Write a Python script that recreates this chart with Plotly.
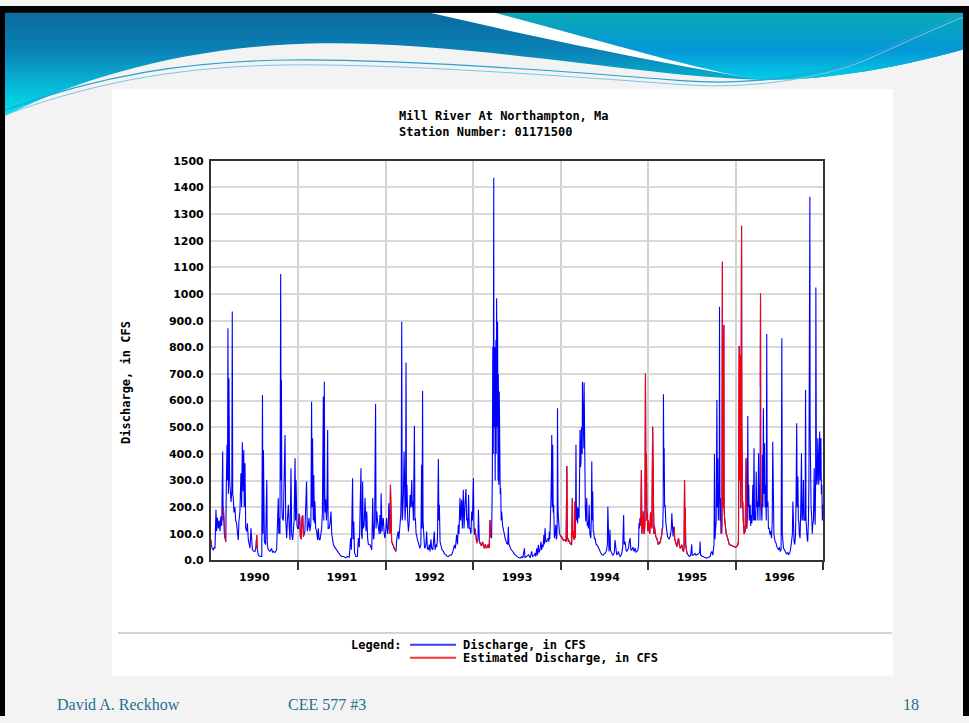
import base64
import pandas as pd
import plotly.graph_objects as go

W, H = 969, 723
SY = 0.99   # small vertical compensation observed in the rendered picture
START = pd.Timestamp("1989-10-01")   # first day of water year 1990
END_DAY = 2556

# ---- daily discharge readings (days since START, cfs) ----
wy1990 = [(0,78),(4,55),(6,45),(11,40),(15,50),(18,45),(22,190),(25,110),(28,160),(32,120),(35,150),(39,110),
          (42,165),(46,130),(50,409),(52,150),(53,200),(55,150),(57,100),(60,85),(63,70),(65,271),(68,434),(70,300),
          (72,871),(74,250),(76,684),(79,300),(82,250),(85,220),(88,260),(90,934),(92,246),(94,240),(97,180),(101,200),
          (104,150),(108,140),(112,100),(115,77),(118,150),(122,184),(126,327),(129,200),(132,444),(135,260),(138,415),
          (140,200),(143,365),(146,121),(150,109),(153,140),(157,77),(160,60),(164,46),(168,121),(171,50),(174,40),
          (180,35),(185,34),(189,50),(192,96),(194,45),(196,30),(199,20),(206,15),(213,15),(216,621),(218,100),(220,415),
          (222,80),(224,70),(229,60),(234,302),(236,60),(240,40),(247,34),(254,45),(258,30),(261,34),(268,30),(275,40),
          (282,234),(284,100),(286,159),(289,100),(292,1075),(294,300),(295,677),(297,200),(299,159),(303,150),(307,300),
          (310,471),(313,150),(317,84),(320,150),(324,209),(328,120),(331,77),(335,346),(338,100),(342,77),(348,150),
          (352,384),(354,150),(356,302),(358,140),(360,130),(363,120)]
wy1991 = [(366,120),(368,175),(371,170),(374,90),(377,80),(381,160),(384,170),(387,90),(390,100),(393,110),(400,296),
          (403,110),(407,130),(410,160),(414,110),(418,140),(421,596),(423,200),(425,459),(428,150),(430,321),(433,140),
          (435,221),(438,120),(442,110),(446,77),(449,121),(452,80),(456,77),(460,100),(463,120),(466,180),(470,615),
          (472,150),(474,671),(476,250),(478,180),(480,229),(483,150),(485,200),(488,490),(490,120),(494,121),(498,140),
          (502,184),(505,100),(508,71),(512,60),(516,52),(521,45),(526,40),(533,30),(540,20),(547,15),(555,15),(563,10),
          (570,15),(578,12),(584,84),(587,40),(592,309),(594,80),(597,146),(600,30),(606,15),(612,15),(616,84),(620,50),
          (627,346),(629,100),(632,80),(634,296),(636,120),(640,130),(644,234),(648,110),(651,184),(655,80),(658,60),
          (665,59),(672,40),(676,234),(679,80),(681,84),(684,150),(688,587),(690,120),(693,184),(696,150),(699,121),
          (703,100),(706,171),(709,100),(711,252),(713,120),(715,109),(718,150),(720,159),(724,100),(727,84)]
wy1992 = [(731,120),(734,159),(738,100),(741,120),(743,215),(745,150),(748,100),(750,284),(752,80),(755,71),(758,65),
          (762,52),(766,45),(769,40),(773,34),(776,77),(779,90),(782,109),(785,80),(787,109),(790,120),(793,171),(795,250),
          (797,896),(799,150),(801,171),(804,250),(807,409),(809,300),(811,150),(813,200),(815,743),(817,200),(819,284),
          (822,150),(825,109),(828,140),(832,246),(835,200),(839,302),(841,200),(843,221),(846,150),(850,506),(852,150),
          (854,159),(857,100),(859,96),(862,80),(866,65),(870,52),(873,46),(877,60),(880,359),(882,120),(884,636),(886,150),
          (889,71),(892,50),(894,46),(898,60),(901,109),(904,45),(908,40),(912,60),(915,34),(919,80),(922,46),(926,40),
          (929,60),(933,109),(936,40),(940,60),(943,50),(946,80),(950,381),(952,150),(954,209),(957,70),(960,59),(965,40),
          (971,34),(976,25),(982,21),(987,15),(992,15),(998,20),(1005,21),(1011,35),(1017,59),(1021,45),(1026,96),
          (1030,60),(1033,134),(1036,100),(1040,234),(1043,150),(1047,228),(1050,120),(1054,265),(1057,120),(1061,209),
          (1065,268),(1068,150),(1071,159),(1073,120),(1076,246),(1079,120),(1082,121),(1086,100),(1089,184),(1092,150),
          (1094,200)]
wy1993 = [(1096,309),(1098,150),(1100,96),(1103,120),(1107,96),(1110,65),(1113,80),(1115,75),(1117,190),(1119,80),
          (1121,71),(1126,60),(1130,55),(1134,70),(1138,50),(1142,46),(1146,60),(1150,46),(1154,50),(1158,60),(1162,46),
          (1165,152),(1168,90),(1170,84),(1172,84),(1175,300),(1177,802),(1179,400),(1181,1436),(1182,500),(1183,700),
          (1184,359),(1185,800),(1186,709),(1187,300),(1188,600),(1190,827),(1191,400),(1193,984),(1195,500),(1197,896),
          (1199,300),(1200,700),(1202,284),(1204,634),(1206,350),(1207,459),(1208,250),(1210,271),(1212,150),(1214,184),
          (1218,130),(1221,121),(1225,100),(1228,84),(1232,70),(1235,65),(1239,60),(1242,127),(1244,60),(1246,59),
          (1251,45),(1256,40),(1263,30),(1270,21),(1277,15),(1284,11),(1291,9),(1298,15),(1302,10),(1309,46),(1311,10),
          (1318,15),(1326,21),(1333,10),(1339,34),(1343,15),(1350,20),(1353,28),(1357,15),(1360,46),(1364,20),(1367,59),
          (1370,30),(1374,40),(1378,71),(1381,40),(1384,60),(1387,50),(1390,96),(1392,60),(1395,121),(1398,70),(1402,71),
          (1405,80),(1409,84),(1411,70),(1413,109),(1415,80),(1417,127),(1420,240),(1422,350),(1423,471),(1425,200),
          (1427,434),(1429,180),(1431,209),(1434,84),(1437,100),(1440,134),(1442,80),(1444,84),(1446,150),(1447,571),
          (1449,200),(1451,159),(1453,110),(1455,102),(1458,96)]
wy1994 = [(1462,90),(1465,90),(1469,80),(1472,75),(1476,77),(1479,77),(1483,70),(1486,355),(1488,80),(1490,84),
          (1493,70),(1496,75),(1499,65),(1503,60),(1506,59),(1509,234),(1511,90),(1513,109),(1516,80),(1518,80),(1520,221),
          (1522,84),(1524,434),(1526,150),(1529,202),(1531,140),(1533,196),(1535,180),(1537,159),(1539,300),(1541,490),
          (1543,350),(1545,371),(1547,500),(1548,446),(1550,400),(1551,671),(1553,500),(1555,565),(1557,420),(1558,668),
          (1560,350),(1561,484),(1563,200),(1565,146),(1567,180),(1569,234),(1571,130),(1573,146),(1576,120),(1579,209),
          (1582,100),(1586,84),(1588,150),(1590,371),(1592,150),(1594,259),(1596,110),(1598,109),(1601,80),(1604,84),
          (1608,60),(1611,59),(1616,52),(1619,48),(1622,40),(1625,34),(1629,25),(1632,21),(1637,20),(1643,27),(1648,30),
          (1652,40),(1655,60),(1657,202),(1659,50),(1662,34),(1664,60),(1666,115),(1668,40),(1673,27),(1677,20),(1680,21),
          (1684,30),(1687,77),(1690,40),(1694,21),(1698,25),(1701,34),(1705,20),(1708,15),(1712,20),(1715,27),(1719,50),
          (1723,171),(1725,60),(1729,71),(1733,40),(1736,34),(1740,40),(1743,46),(1746,70),(1750,84),(1753,40),(1757,40),
          (1762,50),(1766,34),(1771,46),(1775,30),(1778,34),(1782,40),(1785,52),(1787,140),(1789,120),(1791,159),
          (1792,130),(1795,150),(1797,340),(1799,100),(1801,165),(1803,120),(1805,184),(1808,100),(1810,110),(1812,150),
          (1814,702),(1816,200),(1818,402),(1820,150),(1821,184),(1824,110)]
wy1995 = [(1826,150),(1829,120),(1832,100),(1835,180),(1837,130),(1839,184),(1841,120),(1844,502),(1846,150),(1849,100),
          (1851,130),(1854,109),(1857,90),(1861,84),(1864,70),(1868,59),(1871,70),(1875,65),(1878,80),(1882,96),(1884,120),
          (1886,121),(1888,200),(1889,624),(1891,300),(1892,421),(1894,200),(1896,209),(1899,140),(1903,109),(1906,90),
          (1910,84),(1913,80),(1917,90),(1920,109),(1922,120),(1924,177),(1926,100),(1927,177),(1929,90),(1931,121),
          (1934,127),(1936,80),(1938,71),(1942,60),(1945,52),(1948,70),(1952,84),(1955,60),(1959,46),(1962,50),(1966,59),
          (1969,40),(1973,34),(1975,50),(1977,302),(1979,100),(1980,196),(1982,60),(1984,34),(1987,27),(1989,27),(1992,20),
          (1998,15),(2003,20),(2007,61),(2009,20),(2014,21),(2018,25),(2021,27),(2025,20),(2028,21),(2035,25),(2040,30),
          (2042,71),(2044,20),(2046,21),(2051,15),(2056,15),(2063,10),(2070,9),(2077,12),(2084,15),(2088,30),(2091,34),
          (2095,20),(2098,40),(2100,60),(2102,400),(2104,80),(2106,109),(2109,150),(2112,602),(2114,200),(2116,384),
          (2118,150),(2120,246),(2122,300),(2123,952),(2125,150),(2127,234),(2129,100),(2130,159),(2132,100),(2133,134),
          (2134,500),(2135,1121),(2136,300),(2137,200),(2138,234),(2139,600),(2140,250),(2141,884),(2142,200),(2144,159),
          (2146,130),(2148,121),(2151,100),(2153,96),(2157,80),(2160,71),(2164,60),(2167,59),(2174,55),(2181,52),(2188,50)]
wy1996 = [(2195,52),(2200,60),(2202,71),(2204,400),(2205,805),(2207,300),(2209,771),(2210,500),(2212,196),(2214,600),
          (2215,1256),(2216,500),(2217,371),(2219,200),(2220,221),(2222,150),(2223,121),(2226,100),(2230,109),(2232,200),
          (2234,384),(2236,120),(2237,121),(2239,150),(2241,542),(2243,200),(2245,284),(2247,150),(2249,196),(2251,209),
          (2253,130),(2255,171),(2258,140),(2260,200),(2262,284),(2264,150),(2265,250),(2267,421),(2269,150),(2272,184),
          (2274,150),(2276,334),(2278,200),(2281,221),(2283,150),(2286,402),(2288,200),(2290,284),(2292,150),(2293,652),
          (2294,1002),(2295,200),(2297,209),(2300,150),(2302,396),(2304,200),(2306,571),(2308,250),(2311,440),(2313,200),
          (2315,284),(2318,150),(2320,850),(2322,200),(2325,221),(2327,120),(2330,121),(2334,96),(2337,110),(2340,84),
          (2343,150),(2345,446),(2347,120),(2350,96),(2355,71),(2359,65),(2362,52),(2366,45),(2369,40),(2373,50),(2376,34),
          (2380,40),(2383,834),(2385,100),(2387,77),(2390,46),(2394,40),(2397,34),(2402,25),(2404,27),(2408,30),(2411,21),
          (2415,30),(2418,34),(2422,60),(2425,96),(2427,100),(2429,221),(2431,100),(2434,71),(2437,60),(2440,96),(2442,200),
          (2445,515),(2447,200),(2450,315),(2452,150),(2454,146),(2456,100),(2459,84),(2462,200),(2465,402),(2467,150),
          (2469,159),(2471,200),(2473,302),(2475,150),(2477,159),(2480,150),(2482,640),(2484,150),(2486,96),(2489,80),
          (2491,71),(2494,150),(2496,300),(2497,902),(2499,400),(2500,1365),(2501,500),(2503,284),(2505,200),(2508,159),
          (2510,100),(2512,134),(2515,150),(2518,346),(2520,200),(2522,134),(2524,300),(2525,1024),(2527,400),(2529,284),
          (2531,300),(2533,459),(2535,300),(2537,284),(2539,400),(2541,484),(2543,300),(2546,459),(2548,250),(2550,284),
          (2552,150),(2554,209),(2556,180)]

# periods flagged as "estimated" (days since START, inclusive)
estimated_periods = [(0,4),(53,63),(189,194),(368,390),(745,773),(1103,1113),(1121,1168),(1455,1522),
                     (1616,1619),(1792,1884),(1931,1989),(2132,2236),(2293,2295)]

water_years = ["1990", "1991", "1992", "1993", "1994", "1995", "1996"]
y_tick_values = [0,100,200,300,400,500,600,700,800,900,1000,1100,1200,1300,1400,1500]
y_tick_text = ["0.0","100.0","200.0","300.0","400.0","500.0","600.0","700.0","800.0","900.0",
               "1000","1100","1200","1300","1400","1500"]

# ---- build series ----
readings = wy1990 + wy1991 + wy1992 + wy1993 + wy1994 + wy1995 + wy1996
days = [d for d, _ in readings]
cfs = [v for _, v in readings]
dates = [START + pd.Timedelta(days=d) for d in days]
is_est = [any(a <= d <= b for a, b in estimated_periods) for d in days]
est_cfs = [v if e else None for v, e in zip(cfs, is_est)]


def px(x):
    return x / W


def py(y):
    return 1 - (y / SY) / H


fig = go.Figure()
fig.add_trace(go.Scatter(x=dates, y=cfs, mode="lines", name="Discharge, in CFS",
                         line=dict(color="#0000ff", width=1.1), hoverinfo="skip"))
fig.add_trace(go.Scatter(x=dates, y=est_cfs, mode="lines", name="Estimated Discharge, in CFS",
                         line=dict(color="#ff0000", width=1.1), connectgaps=False, hoverinfo="skip"))

label_dates = [f"{y}-04-01" for y in water_years]
year_bounds = [f"{int(y)}-10-01" for y in water_years[:-1]] + [str((START + pd.Timedelta(days=END_DAY)).date())]

tick_font = dict(family="DejaVu Sans", size=11, color="black", weight="bold")
mono = "DejaVu Sans Mono"
mono_font = dict(family=mono, size=12, color="black", weight="bold")

fig.update_xaxes(
    type="date", domain=[px(210.7), px(823.3)],
    range=[START, START + pd.Timedelta(days=END_DAY)],
    tickmode="array", tickvals=label_dates, ticktext=water_years, ticks="", showgrid=False,
    tickfont=tick_font, ticklabelstandoff=6,
    minor=dict(tickmode="array", tickvals=year_bounds, ticks="outside", ticklen=8, tickwidth=1.5,
               tickcolor="#333333", showgrid=True, gridcolor="#d2d2d2", gridwidth=2),
    showline=True, mirror=True, linecolor="#333333", linewidth=1.5, zeroline=False,
)
fig.update_yaxes(
    domain=[py(559), py(156)], range=[0, 1500],
    tickmode="array", tickvals=y_tick_values, ticktext=y_tick_text, ticks="",
    tickfont=tick_font, ticklabelstandoff=3,
    showgrid=True, gridcolor="#d9d9d9", gridwidth=2,
    showline=True, mirror=True, linecolor="#333333", linewidth=1.5, zeroline=False,
)

header_svg = """<svg xmlns="http://www.w3.org/2000/svg" width="969" height="120" viewBox="0 0 969 120">
<defs>
<linearGradient id="gl" gradientUnits="userSpaceOnUse" x1="0" y1="7" x2="0" y2="112">
<stop offset="0" stop-color="#0b6b9f"/><stop offset="0.35" stop-color="#0a80b4"/>
<stop offset="0.7" stop-color="#06b6d6"/><stop offset="1" stop-color="#00e6f2"/>
</linearGradient>
<linearGradient id="gr" gradientUnits="userSpaceOnUse" x1="0" y1="7" x2="0" y2="76">
<stop offset="0" stop-color="#09a9b4"/><stop offset="0.55" stop-color="#0597d8"/>
<stop offset="1" stop-color="#00cfe6"/>
</linearGradient>
</defs>
<path d="M5,7 H964 V44 C900,62 830,76 760,75 C640,72 470,36 320,38 C200,40 90,68 5,112 Z" fill="url(#gl)"/>
<path d="M495,7 H964 V44 C900,62 830,76 760,75 C700,66 600,35 495,7 Z" fill="url(#gr)"/>
<path d="M430,7 H495 C600,35 700,66 760,75 C660,58 540,33 430,7 Z" fill="#ffffff"/>
<path d="M5,106 C100,70 190,56 291,55 C400,54 560,66 681,76 C760,82 830,68 867,51 C910,33 940,18 966,6" fill="none" stroke="#2a9fd0" stroke-width="1.2"/>
<path d="M5,111 C100,75 190,61 291,60 C400,59 560,71 681,80 C760,86 835,70 870,53 C912,34 942,20 966,10" fill="none" stroke="#7cc4e0" stroke-width="1"/>
<rect x="0" y="0" width="969" height="7" fill="#000000"/>
</svg>"""
svg_uri = "data:image/svg+xml;base64," + base64.b64encode(header_svg.encode()).decode()

fig.add_layout_image(dict(source=svg_uri, xref="paper", yref="paper", x=0, y=1, sizex=1, sizey=120 / H,
                          xanchor="left", yanchor="top", sizing="stretch", layer="above"))

shapes = [
    dict(type="rect", xref="paper", yref="paper", x0=px(112), x1=px(893), y0=py(675), y1=py(84),
         fillcolor="white", line=dict(width=0), layer="below"),
    dict(type="line", xref="paper", yref="paper", x0=px(118), x1=px(892), y0=py(632), y1=py(632),
         line=dict(color="#d4d4d4", width=2)),
    dict(type="rect", xref="paper", yref="paper", x0=0, x1=px(5), y0=0, y1=1,
         fillcolor="black", line=dict(width=0)),
    dict(type="rect", xref="paper", yref="paper", x0=px(963), x1=1, y0=0, y1=1,
         fillcolor="black", line=dict(width=0)),
    dict(type="line", xref="paper", yref="paper", x0=px(410), x1=px(456), y0=py(644), y1=py(644),
         line=dict(color="#3c3cff", width=2)),
    dict(type="line", xref="paper", yref="paper", x0=px(410), x1=px(456), y0=py(657), y1=py(657),
         line=dict(color="#ff3030", width=2)),
]

foot_font = dict(family="Liberation Serif", size=16, color="#22708e")
annotations = [
    dict(text="Mill River At Northampton, Ma<br>Station Number: 01171500", x=px(397), y=py(119),
         xanchor="left", yanchor="middle", align="left", font=mono_font),
    dict(text="Discharge, in CFS", x=px(126), y=py(380), xanchor="center", yanchor="middle",
         textangle=-90, font=mono_font),
    dict(text="Legend:", x=px(404), y=py(644), xanchor="right", yanchor="middle", font=mono_font),
    dict(text="Discharge, in CFS", x=px(461), y=py(644), xanchor="left", yanchor="middle", font=mono_font),
    dict(text="Estimated Discharge, in CFS", x=px(461), y=py(657), xanchor="left", yanchor="middle",
         font=mono_font),
    dict(text="David A. Reckhow", x=px(55), y=py(704), xanchor="left", yanchor="middle", font=foot_font),
    dict(text="CEE 577 #3", x=px(286), y=py(704), xanchor="left", yanchor="middle", font=foot_font),
    dict(text="18", x=px(921), y=py(704), xanchor="right", yanchor="middle", font=foot_font),
]
for a in annotations:
    a.update(xref="paper", yref="paper", showarrow=False)

fig.update_layout(
    width=W, height=H, autosize=False,
    margin=dict(l=0, r=0, t=0, b=0),
    paper_bgcolor="#f3f3f3", plot_bgcolor="white",
    showlegend=False,
    shapes=shapes, annotations=annotations,
)

fig.write_html("out.html")
